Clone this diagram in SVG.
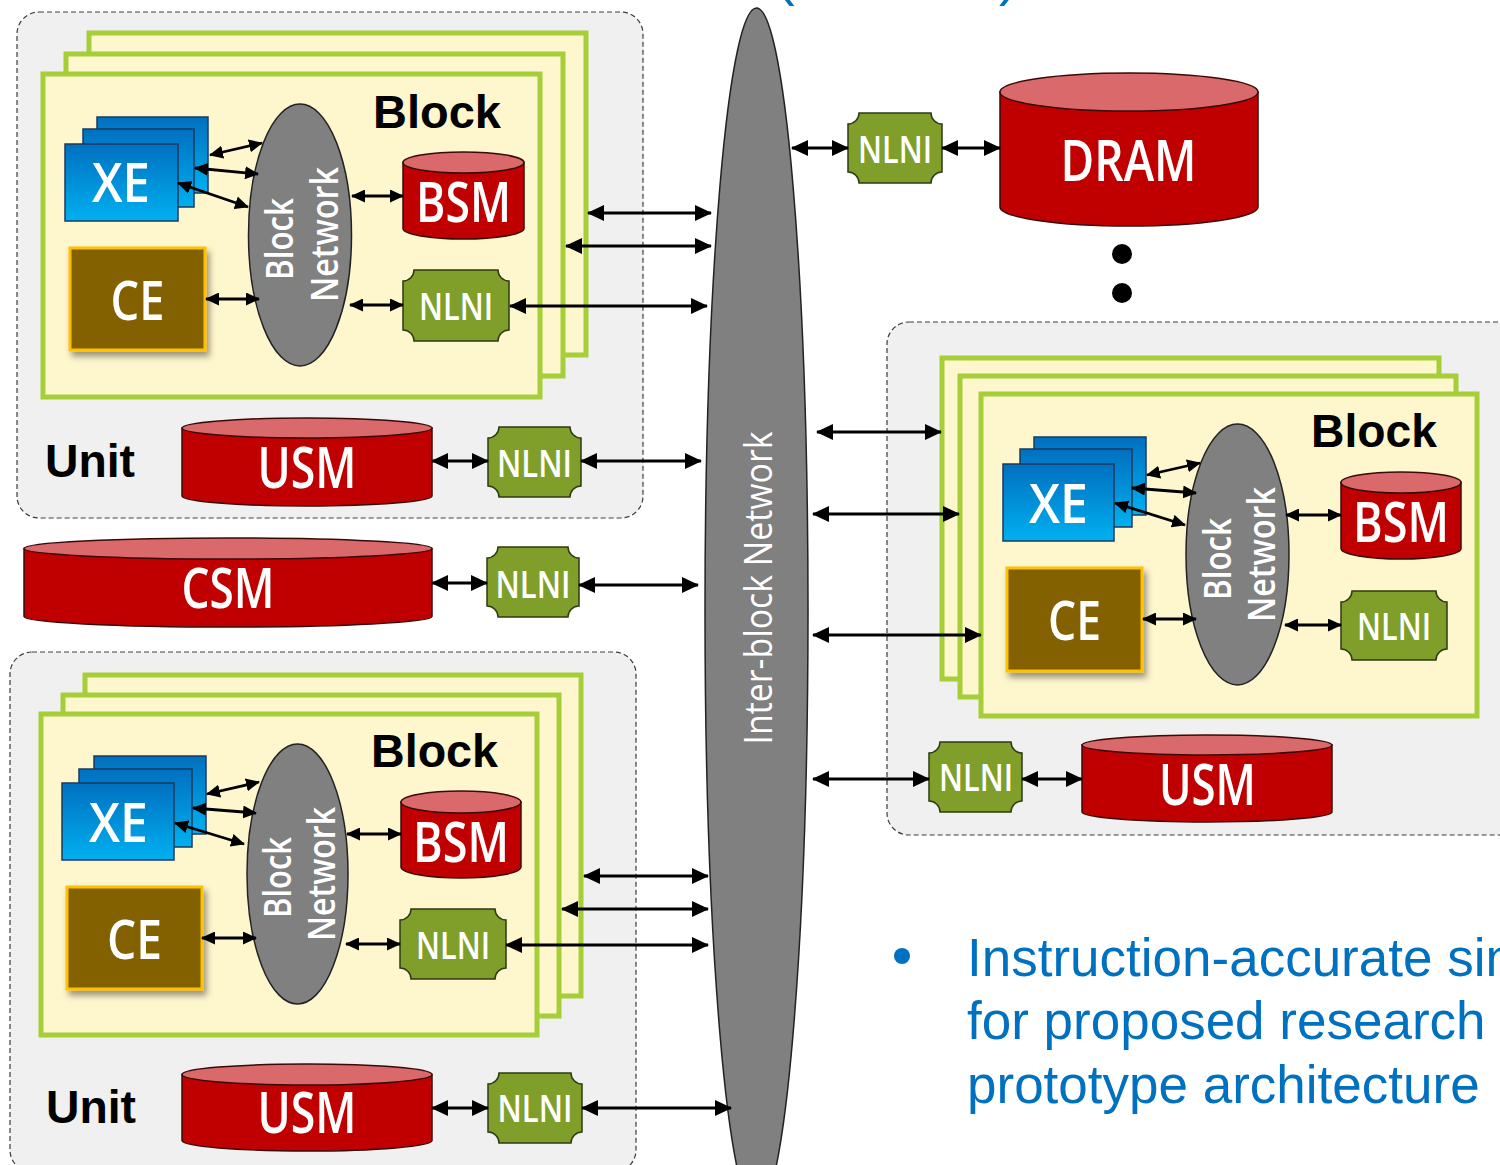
<svg xmlns="http://www.w3.org/2000/svg" width="1500" height="1165" viewBox="0 0 1500 1165">
  <defs>
    <style>
      .unit { fill: #f0f0f0; stroke: #3c3c3c; stroke-width: 1.2; stroke-dasharray: 5 3; }
      .blk { fill: #fef6cd; stroke: #a6ce39; stroke-width: 5; }
      .xe { fill: url(#xeGrad); stroke: #1b3a5c; stroke-width: 1.5; }
      .ce { fill: #836000; stroke: #ffc000; stroke-width: 3; filter: url(#shadow); }
      .bnet { fill: #808080; stroke: #222; stroke-width: 1.5; }
      .cyl { fill: #c00000; stroke: #3a0a0a; stroke-width: 1.5; }
      .cyltop { fill: #d9696b; stroke: #3a0a0a; stroke-width: 1.5; }
      .nlni { fill: #7f9f2a; stroke: #2e3a12; stroke-width: 1.5; }
      .lbl { font-family: "Open Sans", "DejaVu Sans", sans-serif; font-weight: 600; fill: #fff; text-anchor: middle; }
      .ibn { font-family: "Open Sans", "DejaVu Sans", sans-serif; fill: #fff; text-anchor: middle; }
      .net { font-family: "Open Sans", "DejaVu Sans", sans-serif; font-weight: 600; fill: #fff; text-anchor: middle; font-size: 37px; }
      .hdr { font-family: "Liberation Sans", Arial, sans-serif; font-weight: bold; fill: #000; font-size: 46px; }
      .wire { stroke: #000; stroke-width: 3.2; fill: none; marker-start: url(#ah); marker-end: url(#ah); }
      .wire-s { stroke: #000; stroke-width: 2.8; fill: none; marker-start: url(#ahs); marker-end: url(#ahs); }
      .bullet { font-family: "Liberation Sans", Arial, sans-serif; fill: #0070c0; font-size: 53px; }
    </style>
    <linearGradient id="xeGrad" x1="0" y1="0" x2="0" y2="1">
      <stop offset="0" stop-color="#0070c0"/>
      <stop offset="1" stop-color="#00b0f0"/>
    </linearGradient>
    <filter id="shadow" x="-20%" y="-20%" width="150%" height="150%">
      <feDropShadow dx="3" dy="5" stdDeviation="3" flood-color="#000" flood-opacity="0.4"/>
    </filter>
    <marker id="ah" viewBox="0 0 17 16" refX="16" refY="8" markerWidth="17" markerHeight="16" markerUnits="userSpaceOnUse" orient="auto-start-reverse">
      <path d="M0,0 L17,8 L0,16 z" fill="#000"/>
    </marker>
    <marker id="ahs" viewBox="0 0 14 13" refX="13" refY="6.5" markerWidth="14" markerHeight="13" markerUnits="userSpaceOnUse" orient="auto-start-reverse">
      <path d="M0,0 L14,6.5 L0,13 z" fill="#000"/>
    </marker>
  </defs>

  <rect width="1500" height="1165" fill="#fff"/>

  <!-- title brackets running off the top edge -->
  <g id="title">
    <text x="776" y="-6" font-family="Liberation Sans, Arial, sans-serif" font-size="56" fill="#0070c0">(</text>
    <text x="999" y="-6" font-family="Liberation Sans, Arial, sans-serif" font-size="56" fill="#0070c0">)</text>
  </g>

  <!-- ===== upper-left unit ===== -->
  <g id="unit-a">
    <rect class="unit" x="17" y="12" width="626" height="506" rx="22"/>
    <text class="hdr" x="45" y="477" textLength="90" lengthAdjust="spacingAndGlyphs">Unit</text>
  </g>
  <g id="block-a">
    <rect class="blk" x="89" y="33" width="497" height="322"/>
    <rect class="blk" x="66" y="54" width="497" height="322"/>
    <rect class="blk" x="43" y="74" width="497" height="323"/>
    <text class="hdr" x="373" y="128" textLength="128" lengthAdjust="spacingAndGlyphs">Block</text>
  </g>
  <g id="xe-a">
    <rect class="xe" x="97" y="117" width="111" height="76"/>
    <rect class="xe" x="83" y="129" width="111" height="78"/>
    <rect class="xe" x="65" y="144" width="113" height="77"/>
    <text class="lbl" x="121" y="202" font-size="55" textLength="58" lengthAdjust="spacingAndGlyphs">XE</text>
  </g>
  <g id="ce-a">
    <rect class="ce" x="70" y="248" width="135" height="102"/>
    <text class="lbl" x="137.5" y="320" font-size="55" textLength="54" lengthAdjust="spacingAndGlyphs">CE</text>
  </g>
  <g id="bnet-a">
    <ellipse class="bnet" cx="300" cy="235" rx="51.5" ry="131"/>
    <text class="net" transform="translate(293,239) rotate(-90)" textLength="82" lengthAdjust="spacingAndGlyphs">Block</text>
    <text class="net" transform="translate(338,234.5) rotate(-90)" textLength="135" lengthAdjust="spacingAndGlyphs">Network</text>
  </g>
  <g id="bsm-a">
    <path class="cyl" d="M403,162.5 V228.5 A60.5,10.5 0 0 0 524,228.5 V162.5 Z"/>
    <ellipse class="cyltop" cx="463.5" cy="162.5" rx="60.5" ry="10.5"/>
    <text class="lbl" x="463.5" y="222" font-size="56" textLength="95" lengthAdjust="spacingAndGlyphs">BSM</text>
  </g>
  <g id="nlni-a">
    <path class="nlni" d="M414,270 H498 A11,11 0 0 0 509,281 V330 A11,11 0 0 0 498,341 H414 A11,11 0 0 0 403,330 V281 A11,11 0 0 0 414,270 Z"/>
    <text class="lbl" x="456" y="320" font-size="38" textLength="74" lengthAdjust="spacingAndGlyphs">NLNI</text>
  </g>
  <g id="usm-a">
    <path class="cyl" d="M182,428 V496 A125,10 0 0 0 432,496 V428 Z"/>
    <ellipse class="cyltop" cx="307" cy="428" rx="125" ry="10"/>
    <text class="lbl" x="307" y="488" font-size="57" textLength="99" lengthAdjust="spacingAndGlyphs">USM</text>
  </g>
  <g id="nlni-ua">
    <path class="nlni" d="M499,427 H570 A11,11 0 0 0 581,438 V486 A11,11 0 0 0 570,497 H499 A11,11 0 0 0 488,486 V438 A11,11 0 0 0 499,427 Z"/>
    <text class="lbl" x="534.5" y="477" font-size="38" textLength="75" lengthAdjust="spacingAndGlyphs">NLNI</text>
  </g>

  <!-- ===== chip-level shared memory ===== -->
  <g id="csm">
    <path class="cyl" d="M24,548.5 V616.5 A204,10.5 0 0 0 432,616.5 V548.5 Z"/>
    <ellipse class="cyltop" cx="228" cy="548.5" rx="204" ry="10.5"/>
    <text class="lbl" x="228" y="608" font-size="56" textLength="93" lengthAdjust="spacingAndGlyphs">CSM</text>
  </g>
  <g id="nlni-csm">
    <path class="nlni" d="M498,547 H568 A11,11 0 0 0 579,558 V606 A11,11 0 0 0 568,617 H498 A11,11 0 0 0 487,606 V558 A11,11 0 0 0 498,547 Z"/>
    <text class="lbl" x="533" y="598" font-size="38" textLength="75" lengthAdjust="spacingAndGlyphs">NLNI</text>
  </g>

  <!-- ===== lower-left unit ===== -->
  <g id="unit-b">
    <rect class="unit" x="10" y="652" width="626" height="520" rx="22"/>
    <text class="hdr" x="46" y="1123" textLength="90" lengthAdjust="spacingAndGlyphs">Unit</text>
  </g>
  <g id="block-b">
    <rect class="blk" x="85" y="675" width="496" height="321"/>
    <rect class="blk" x="63" y="695" width="496" height="321"/>
    <rect class="blk" x="41" y="714" width="496" height="321"/>
    <text class="hdr" x="371" y="767" textLength="127" lengthAdjust="spacingAndGlyphs">Block</text>
  </g>
  <g id="xe-b">
    <rect class="xe" x="94" y="756" width="112" height="78"/>
    <rect class="xe" x="79" y="769" width="113" height="78"/>
    <rect class="xe" x="62" y="783" width="112" height="77"/>
    <text class="lbl" x="118.5" y="842" font-size="55" textLength="59" lengthAdjust="spacingAndGlyphs">XE</text>
  </g>
  <g id="ce-b">
    <rect class="ce" x="67" y="887" width="135" height="102"/>
    <text class="lbl" x="134.5" y="959" font-size="55" textLength="55" lengthAdjust="spacingAndGlyphs">CE</text>
  </g>
  <g id="bnet-b">
    <ellipse class="bnet" cx="297.5" cy="874" rx="50.5" ry="130"/>
    <text class="net" transform="translate(291,877.5) rotate(-90)" textLength="81" lengthAdjust="spacingAndGlyphs">Block</text>
    <text class="net" transform="translate(335,874) rotate(-90)" textLength="134" lengthAdjust="spacingAndGlyphs">Network</text>
  </g>
  <g id="bsm-b">
    <path class="cyl" d="M401,802 V867 A60,11 0 0 0 521,867 V802 Z"/>
    <ellipse class="cyltop" cx="461" cy="802" rx="60" ry="11"/>
    <text class="lbl" x="461" y="862" font-size="56" textLength="96" lengthAdjust="spacingAndGlyphs">BSM</text>
  </g>
  <g id="nlni-b">
    <path class="nlni" d="M411,909 H495 A11,11 0 0 0 506,920 V968 A11,11 0 0 0 495,979 H411 A11,11 0 0 0 400,968 V920 A11,11 0 0 0 411,909 Z"/>
    <text class="lbl" x="453" y="959" font-size="38" textLength="74" lengthAdjust="spacingAndGlyphs">NLNI</text>
  </g>
  <g id="usm-b">
    <path class="cyl" d="M182,1074.5 V1140.5 A125,10.5 0 0 0 432,1140.5 V1074.5 Z"/>
    <ellipse class="cyltop" cx="307" cy="1074.5" rx="125" ry="10.5"/>
    <text class="lbl" x="307" y="1133" font-size="57" textLength="99" lengthAdjust="spacingAndGlyphs">USM</text>
  </g>
  <g id="nlni-ub">
    <path class="nlni" d="M499,1073 H571 A11,11 0 0 0 582,1084 V1132 A11,11 0 0 0 571,1143 H499 A11,11 0 0 0 488,1132 V1084 A11,11 0 0 0 499,1073 Z"/>
    <text class="lbl" x="535" y="1122" font-size="38" textLength="75" lengthAdjust="spacingAndGlyphs">NLNI</text>
  </g>

  <!-- ===== inter-block network ===== -->
  <g id="inter-block">
    <ellipse class="bnet" cx="756.5" cy="610" rx="51.5" ry="602"/>
    <text class="ibn" transform="translate(772,588) rotate(-90)" font-size="39" textLength="313" lengthAdjust="spacingAndGlyphs">Inter-block Network</text>
  </g>

  <!-- ===== off-chip memory ===== -->
  <g id="nlni-dram">
    <path class="nlni" d="M859,113 H931 A11,11 0 0 0 942,124 V172 A11,11 0 0 0 931,183 H859 A11,11 0 0 0 848,172 V124 A11,11 0 0 0 859,113 Z"/>
    <text class="lbl" x="895" y="163" font-size="38" textLength="74" lengthAdjust="spacingAndGlyphs">NLNI</text>
  </g>
  <g id="dram">
    <path class="cyl" d="M1000,92 V207 A129,19 0 0 0 1258,207 V92 Z"/>
    <ellipse class="cyltop" cx="1129" cy="92" rx="129" ry="19"/>
    <text class="lbl" x="1128.5" y="181" font-size="58" textLength="136" lengthAdjust="spacingAndGlyphs">DRAM</text>
  </g>
  <g id="ellipsis">
    <circle cx="1122" cy="254" r="10" fill="#000"/>
    <circle cx="1122" cy="293" r="10" fill="#000"/>
  </g>

  <!-- ===== right unit ===== -->
  <g id="unit-c">
    <rect class="unit" x="887" y="322" width="640" height="513" rx="22"/>
  </g>
  <g id="block-c">
    <rect class="blk" x="942" y="358" width="497" height="321"/>
    <rect class="blk" x="960" y="376" width="496" height="321"/>
    <rect class="blk" x="981" y="394" width="496" height="322"/>
    <text class="hdr" x="1311" y="447" textLength="126" lengthAdjust="spacingAndGlyphs">Block</text>
  </g>
  <g id="xe-c">
    <rect class="xe" x="1034" y="437" width="112" height="78"/>
    <rect class="xe" x="1020" y="449" width="112" height="78"/>
    <rect class="xe" x="1003" y="464" width="111" height="77"/>
    <text class="lbl" x="1058.5" y="523" font-size="55" textLength="59" lengthAdjust="spacingAndGlyphs">XE</text>
  </g>
  <g id="ce-c">
    <rect class="ce" x="1007" y="568" width="135" height="103"/>
    <text class="lbl" x="1074.5" y="640" font-size="55" textLength="53" lengthAdjust="spacingAndGlyphs">CE</text>
  </g>
  <g id="bnet-c">
    <ellipse class="bnet" cx="1237.5" cy="554.5" rx="51.5" ry="130.5"/>
    <text class="net" transform="translate(1231,559) rotate(-90)" textLength="82" lengthAdjust="spacingAndGlyphs">Block</text>
    <text class="net" transform="translate(1275,554.5) rotate(-90)" textLength="135" lengthAdjust="spacingAndGlyphs">Network</text>
  </g>
  <g id="bsm-c">
    <path class="cyl" d="M1341,482.5 V548.5 A60,10.5 0 0 0 1461,548.5 V482.5 Z"/>
    <ellipse class="cyltop" cx="1401" cy="482.5" rx="60" ry="10.5"/>
    <text class="lbl" x="1401" y="542" font-size="56" textLength="96" lengthAdjust="spacingAndGlyphs">BSM</text>
  </g>
  <g id="nlni-c">
    <path class="nlni" d="M1352,591 H1436 A11,11 0 0 0 1447,602 V649 A11,11 0 0 0 1436,660 H1352 A11,11 0 0 0 1341,649 V602 A11,11 0 0 0 1352,591 Z"/>
    <text class="lbl" x="1394" y="640" font-size="38" textLength="74" lengthAdjust="spacingAndGlyphs">NLNI</text>
  </g>
  <g id="nlni-uc">
    <path class="nlni" d="M940,742 H1011 A11,11 0 0 0 1022,753 V801 A11,11 0 0 0 1011,812 H940 A11,11 0 0 0 929,801 V753 A11,11 0 0 0 940,742 Z"/>
    <text class="lbl" x="976" y="791" font-size="38" textLength="74" lengthAdjust="spacingAndGlyphs">NLNI</text>
  </g>
  <g id="usm-c">
    <path class="cyl" d="M1082,745 V812 A125,10 0 0 0 1332,812 V745 Z"/>
    <ellipse class="cyltop" cx="1207" cy="745" rx="125" ry="10"/>
    <text class="lbl" x="1207.5" y="805" font-size="57" textLength="97" lengthAdjust="spacingAndGlyphs">USM</text>
  </g>

  <!-- ===== bullet note ===== -->
  <g id="note">
    <circle cx="902" cy="956" r="8" fill="#0070c0"/>
    <text class="bullet" x="967" y="976">Instruction-accurate sim</text>
    <text class="bullet" x="967" y="1039">for proposed research</text>
    <text class="bullet" x="967" y="1103">prototype architecture</text>
  </g>

  <!-- ===== links ===== -->
  <g id="connectors">
    <!-- upper-left block internals -->
    <line class="wire-s" x1="210" y1="155" x2="262" y2="143"/>
    <line class="wire-s" x1="195" y1="168" x2="258" y2="174"/>
    <line class="wire-s" x1="178" y1="183" x2="248" y2="207"/>
    <line class="wire-s" x1="206" y1="299" x2="259" y2="299"/>
    <line class="wire-s" x1="352" y1="196" x2="403" y2="196"/>
    <line class="wire-s" x1="350" y1="305" x2="403" y2="305"/>
    <!-- upper-left to inter-block network -->
    <line class="wire" x1="588" y1="213" x2="711" y2="213"/>
    <line class="wire" x1="566" y1="246" x2="711" y2="246"/>
    <line class="wire" x1="510" y1="306" x2="707" y2="306"/>
    <line class="wire" x1="432" y1="461" x2="488" y2="461"/>
    <line class="wire" x1="581" y1="461" x2="701" y2="461"/>
    <!-- CSM -->
    <line class="wire" x1="432" y1="583" x2="487" y2="583"/>
    <line class="wire" x1="579" y1="585" x2="698" y2="585"/>
    <!-- lower-left block internals -->
    <line class="wire-s" x1="207" y1="794" x2="259" y2="782"/>
    <line class="wire-s" x1="193" y1="808" x2="256" y2="813"/>
    <line class="wire-s" x1="175" y1="823" x2="244" y2="844"/>
    <line class="wire-s" x1="202" y1="938" x2="256" y2="938"/>
    <line class="wire-s" x1="347" y1="834" x2="401" y2="834"/>
    <line class="wire-s" x1="346" y1="944" x2="400" y2="944"/>
    <!-- lower-left to inter-block network -->
    <line class="wire" x1="584" y1="876" x2="708" y2="876"/>
    <line class="wire" x1="562" y1="909" x2="708" y2="909"/>
    <line class="wire" x1="506" y1="945" x2="708" y2="945"/>
    <line class="wire" x1="432" y1="1108" x2="488" y2="1108"/>
    <line class="wire" x1="582" y1="1108" x2="731" y2="1108"/>
    <!-- DRAM -->
    <line class="wire" x1="792" y1="148" x2="848" y2="148"/>
    <line class="wire" x1="942" y1="148" x2="1000" y2="148"/>
    <!-- right unit -->
    <line class="wire" x1="817" y1="432" x2="941" y2="432"/>
    <line class="wire" x1="813" y1="514" x2="959" y2="514"/>
    <line class="wire" x1="813" y1="635" x2="981" y2="635"/>
    <line class="wire" x1="813" y1="779" x2="929" y2="779"/>
    <line class="wire" x1="1022" y1="779" x2="1082" y2="779"/>
    <!-- right block internals -->
    <line class="wire-s" x1="1147" y1="475" x2="1200" y2="463"/>
    <line class="wire-s" x1="1132" y1="488" x2="1196" y2="493"/>
    <line class="wire-s" x1="1115" y1="503" x2="1185" y2="525"/>
    <line class="wire-s" x1="1143" y1="619" x2="1196" y2="619"/>
    <line class="wire-s" x1="1286" y1="515" x2="1341" y2="515"/>
    <line class="wire-s" x1="1285" y1="625" x2="1341" y2="625"/>
  </g>
</svg>
